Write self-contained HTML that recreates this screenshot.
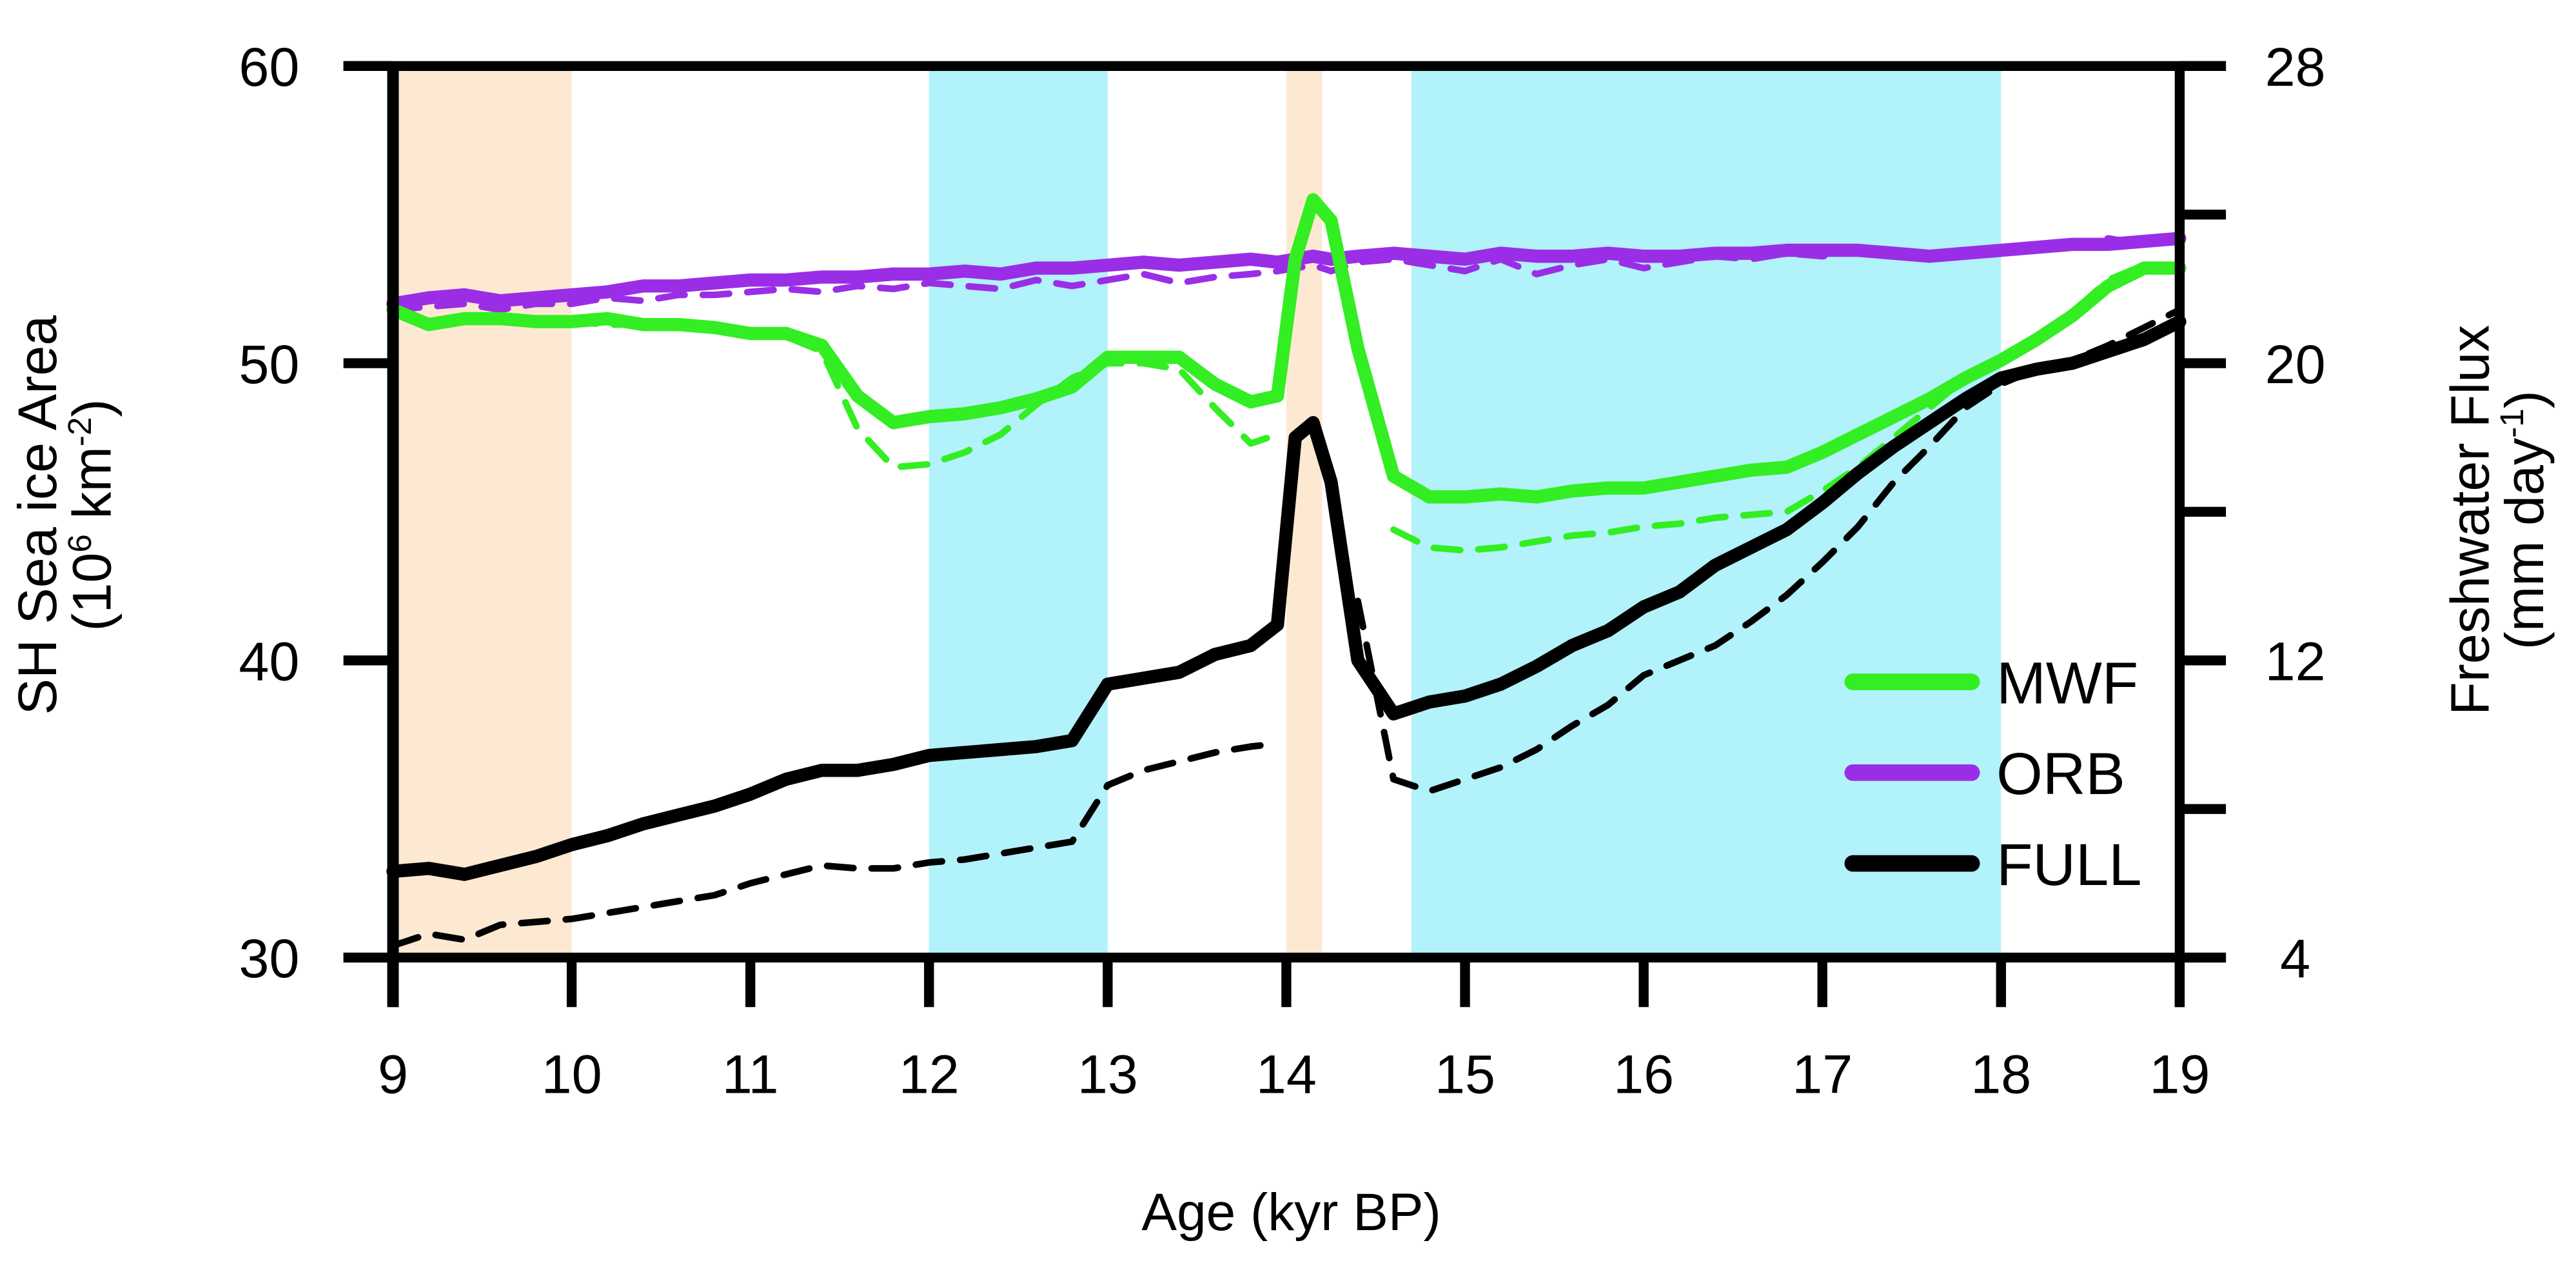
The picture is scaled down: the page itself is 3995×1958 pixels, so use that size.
<!DOCTYPE html>
<html><head><meta charset="utf-8"><style>
html,body{margin:0;padding:0;background:#fff}
svg{display:block}
text{font-family:"Liberation Sans",sans-serif;fill:#000}
</style></head><body>
<svg id="chart" width="3995" height="1958" viewBox="0 0 1560 765" preserveAspectRatio="none" xmlns="http://www.w3.org/2000/svg">
<g id="bands"></g>
<g id="series"></g>
<g id="axes"></g>
<g id="legend"></g>
<text transform="translate(34,312) rotate(-90)" text-anchor="middle" font-size="33">SH Sea ice Area</text>
<text transform="translate(67,312) rotate(-90)" text-anchor="middle" font-size="33">(10<tspan font-size="20" dy="-12">6</tspan><tspan dy="12"> km</tspan><tspan font-size="20" dy="-12">-2</tspan><tspan dy="12">)</tspan></text>
<text transform="translate(1507,315) rotate(-90)" text-anchor="middle" font-size="33">Freshwater Flux</text>
<text transform="translate(1540,315) rotate(-90)" text-anchor="middle" font-size="33">(mm day<tspan font-size="20" dy="-12">-1</tspan><tspan dy="12">)</tspan></text>
<text x="782" y="745" text-anchor="middle" font-size="32">Age (kyr BP)</text>
</svg>
<script>
const ages = [9,9.2,9.4,9.6,9.8,10,10.2,10.4,10.6,10.8,11,11.2,11.4,11.6,11.8,12,12.2,12.4,12.6,12.8,13,13.2,13.4,13.6,13.8,13.95,14.05,14.15,14.25,14.4,14.6,14.8,15,15.2,15.4,15.6,15.8,16,16.2,16.4,16.6,16.8,17,17.2,17.4,17.6,17.8,18,18.2,18.4,18.6,18.8,19];
const mwfSolid = [51.8,51.3,51.5,51.5,51.4,51.4,51.5,51.3,51.3,51.2,51.0,51.0,50.6,48.9,48.0,48.2,48.3,48.5,48.8,49.2,50.2,50.2,50.2,49.3,48.7,48.9,53.5,55.5,54.8,50.5,46.2,45.5,45.5,45.6,45.5,45.7,45.8,45.8,46.0,46.2,46.4,46.5,47.0,47.6,48.2,48.8,49.5,50.1,50.8,51.6,52.6,53.2,53.2];
const mwfDashed = [51.7,51.4,51.4,51.5,51.3,51.4,51.3,51.3,51.2,51.1,51.0,50.9,50.4,47.8,46.5,46.6,47.0,47.6,48.6,49.5,50.0,50.0,49.8,48.5,47.3,47.6,null,null,null,null,44.4,43.8,43.7,43.8,44.0,44.2,44.3,44.5,44.6,44.8,44.9,45.0,45.7,46.5,47.5,48.5,49.5,50.0,50.8,51.7,52.8,53.3,53.3];
const orbSolid = [52.0,52.2,52.3,52.1,52.2,52.3,52.4,52.6,52.6,52.7,52.8,52.8,52.9,52.9,53.0,53.0,53.1,53.0,53.2,53.2,53.3,53.4,53.3,53.4,53.5,53.4,53.5,53.6,53.5,53.6,53.7,53.6,53.5,53.7,53.6,53.6,53.7,53.6,53.6,53.7,53.7,53.8,53.8,53.8,53.7,53.6,53.7,53.8,53.9,54.0,54.0,54.1,54.2];
const orbDashed = [51.8,51.9,52.0,51.8,52.0,52.0,52.2,52.1,52.3,52.3,52.4,52.5,52.4,52.6,52.5,52.7,52.6,52.5,52.8,52.6,52.8,53.0,52.7,52.9,53.0,53.1,53.2,53.3,53.1,53.4,53.5,53.3,53.1,53.5,53.0,53.3,53.5,53.2,53.4,53.6,53.5,53.7,53.6,53.8,53.6,53.5,53.6,53.7,53.9,54.0,54.2,54.0,54.3];
const fullSolid = [32.9,33.0,32.8,33.1,33.4,33.8,34.1,34.5,34.8,35.1,35.5,36.0,36.3,36.3,36.5,36.8,36.9,37.0,37.1,37.3,39.2,39.4,39.6,40.2,40.5,41.2,47.5,48.0,46.0,40.0,38.2,38.6,38.8,39.2,39.8,40.5,41.0,41.8,42.3,43.2,43.8,44.4,45.3,46.3,47.2,48.0,48.8,49.5,49.8,50.0,50.4,50.8,51.4];
const fullDashed = [30.4,30.8,30.6,31.1,31.2,31.3,31.5,31.7,31.9,32.1,32.5,32.8,33.1,33.0,33.0,33.2,33.3,33.5,33.7,33.9,35.8,36.3,36.6,36.9,37.1,37.2,null,null,null,42.0,36.0,35.6,36.0,36.4,37.0,37.8,38.5,39.5,40.0,40.5,41.3,42.2,43.3,44.5,46.0,47.2,48.5,49.3,49.8,50.1,50.6,51.2,51.8];
const bandStarts = [9,12,14,14.7];
const bandEnds = [10,13,14.2,18];
const bandKinds = ['tan','cyan','tan','cyan'];
const xTicks = [9,10,11,12,13,14,15,16,17,18,19];
const yTicksLeft = [30,40,50,60];
const yTicksRight = [4,8,12,16,20,24,28];
const yLabelsRight = [4,12,20,28];

const NS='http://www.w3.org/2000/svg';
const X0=238,X1=1320,Y0=580,Y1=40;
function xs(a){return X0+(a-9)/(19-9)*(X1-X0);}
function ys(v){return Y0-(v-30)/(60-30)*(Y0-Y1);}
function yr(v){return Y0-(v-4)/(28-4)*(Y0-Y1);}
function mk(tag,attrs,parent){const e=document.createElementNS(NS,tag);for(const k in attrs)e.setAttribute(k,attrs[k]);parent.appendChild(e);return e;}

const bands=document.getElementById('bands');
bandStarts.forEach((s,i)=>{
  const r=mk('rect',{x:xs(s),y:Y1,width:xs(bandEnds[i])-xs(s),height:Y0-Y1,fill:bandKinds[i]==='tan'?'#fde8d2':'#b2f2fa'},bands);
  
  
});

const GREEN='#33ee22', PURPLE='#9a2ee6';
const ser=document.getElementById('series');
function line(vals,color,w,dash,name){
  let d='',pen=false;
  vals.forEach((v,i)=>{if(v===null){pen=false;return;}d+=(pen?'L':'M')+xs(ages[i]).toFixed(1)+' '+ys(v).toFixed(1)+' ';pen=true;});
  const p=mk('path',{d:d,fill:'none',stroke:color,'stroke-width':w,'stroke-linejoin':'round','stroke-linecap':'round'},ser);
  if(dash)p.setAttribute('stroke-dasharray',dash);
  
  
}
line(orbDashed,PURPLE,4,'16 11','orb-dashed-line');
line(mwfDashed,GREEN,4,'16 11','mwf-dashed-line');
line(fullDashed,'#000',4,'16 11','full-dashed-line');
line(orbSolid,PURPLE,8,null,'orb-line');
line(mwfSolid,GREEN,8,null,'mwf-line');
line(fullSolid,'#000',8,null,'full-line');

const ax=document.getElementById('axes');
mk('line',{x1:208,y1:Y1,x2:1348,y2:Y1,stroke:'#000','stroke-width':6},ax);
mk('line',{x1:208,y1:Y0,x2:1348,y2:Y0,stroke:'#000','stroke-width':6},ax);
mk('line',{x1:X0,y1:Y1,x2:X0,y2:Y0+30,stroke:'#000','stroke-width':7},ax);
mk('line',{x1:X1,y1:Y1,x2:X1,y2:Y0+30,stroke:'#000','stroke-width':6},ax);
xTicks.forEach(t=>{
  const l=mk('line',{x1:xs(t),y1:Y0,x2:xs(t),y2:Y0+30,stroke:'#000','stroke-width':6},ax);
  
  
  const tx=mk('text',{x:xs(t),y:662,'text-anchor':'middle','font-size':33},ax);tx.textContent=t;
  
  
});
yTicksLeft.forEach(t=>{
  mk('line',{x1:208,y1:ys(t),x2:X0,y2:ys(t),stroke:'#000','stroke-width':6},ax);
  const tx=mk('text',{x:163,y:ys(t)+12,'text-anchor':'middle','font-size':33},ax);tx.textContent=t;
  
  
});
yTicksRight.forEach(t=>{
  mk('line',{x1:X1,y1:yr(t),x2:1348,y2:yr(t),stroke:'#000','stroke-width':6},ax);
});
yLabelsRight.forEach(t=>{
  const tx=mk('text',{x:1390,y:yr(t)+12,'text-anchor':'middle','font-size':33},ax);tx.textContent=t;
  
  
});

const lg=document.getElementById('legend');
[['MWF',GREEN,413],['ORB',PURPLE,468],['FULL','#000',523]].forEach(e=>{
  mk('line',{x1:1122,y1:e[2],x2:1194,y2:e[2],stroke:e[1],'stroke-width':10,'stroke-linecap':'round'},lg);
  const tx=mk('text',{x:1209,y:e[2]+13,'font-size':36},lg);tx.textContent=e[0];
  
  
});
</script>
</body></html>
